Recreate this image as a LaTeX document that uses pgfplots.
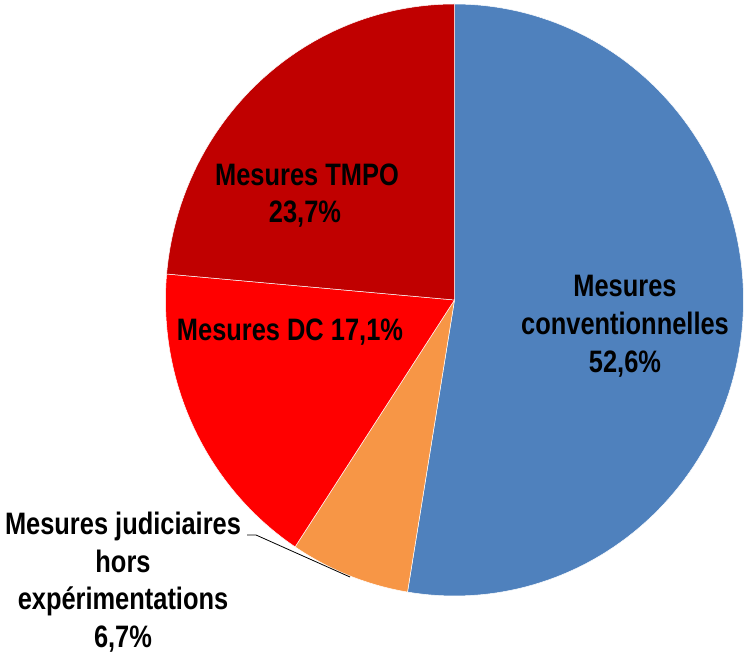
\documentclass[border=0pt]{standalone}
\usepackage{pgfplots}
\pgfplotsset{compat=1.18}
\usepackage{fontspec}
\setmainfont{Liberation Sans}
\newfontfamily\lbl[FakeStretch=0.82]{Liberation Sans}
\newcommand\lblfont{\lbl\bfseries\fontsize{31bp}{37bp}\selectfont}
\tikzset{lab/.style={font=\lblfont, inner sep=0pt, anchor=base, text=black}}
\definecolor{cConv}{HTML}{4F81BD}
\definecolor{cJud}{HTML}{F79646}
\definecolor{cDC}{HTML}{FF0000}
\definecolor{cTMPO}{HTML}{C00000}
% shares (percent)
\def\vConv{52.6}
\def\vJud{6.7}
\def\vDC{17.1}
\def\vTMPO{23.7}
\pgfmathsetmacro{\aA}{90}
\pgfmathsetmacro{\aB}{\aA-\vConv*3.6}
\pgfmathsetmacro{\aC}{\aB-\vJud*3.6}
\pgfmathsetmacro{\aD}{\aC-\vDC*3.6}
\pgfmathsetmacro{\aE}{-270}
\def\cx{454.5}
\def\cy{354}
\def\rx{289}
\def\ry{296}
\begin{document}
\begin{tikzpicture}
\useasboundingbox (0,0) rectangle (744bp,654bp);
\begin{axis}[
  width=744bp, height=654bp, scale only axis,
  xmin=0, xmax=744, ymin=0, ymax=654,
  hide axis, clip=false,
]
\addplot[fill=cConv, draw=white, line width=0.5bp, domain=\aB:\aA, samples=120]
  ({\cx+\rx*cos(x)},{\cy+\ry*sin(x)}) -- (axis cs:\cx,\cy) -- cycle;
\addplot[fill=cJud, draw=white, line width=0.5bp, domain=\aC:\aB, samples=30]
  ({\cx+\rx*cos(x)},{\cy+\ry*sin(x)}) -- (axis cs:\cx,\cy) -- cycle;
\addplot[fill=cDC, draw=white, line width=0.5bp, domain=\aD:\aC, samples=60]
  ({\cx+\rx*cos(x)},{\cy+\ry*sin(x)}) -- (axis cs:\cx,\cy) -- cycle;
\addplot[fill=cTMPO, draw=white, line width=0.5bp, domain=\aE:\aD, samples=80]
  ({\cx+\rx*cos(x)},{\cy+\ry*sin(x)}) -- (axis cs:\cx,\cy) -- cycle;
% labels (image y converted: 654 - y)
\node[lab] at (axis cs:625,{654-297}) {Mesures};
\node[lab] at (axis cs:625,{654-335}) {conventionnelles};
\node[lab] at (axis cs:625,{654-373}) {52,6\%};
\node[lab] at (axis cs:307,{654-186}) {Mesures TMPO};
\node[lab] at (axis cs:305,{654-223}) {23,7\%};
\node[lab] at (axis cs:290,{654-341}) {Mesures DC 17,1\%};
\node[lab] at (axis cs:123,{654-535}) {Mesures judiciaires};
\node[lab] at (axis cs:123,{654-573}) {hors};
\node[lab] at (axis cs:123,{654-610}) {expérimentations};
\node[lab] at (axis cs:123,{654-647}) {6,7\%};
\draw[black, line width=0.8bp] (axis cs:247,{654-535}) -- (axis cs:256,{654-535}) -- (axis cs:350,{654-577});
\end{axis}
\end{tikzpicture}
\end{document}
